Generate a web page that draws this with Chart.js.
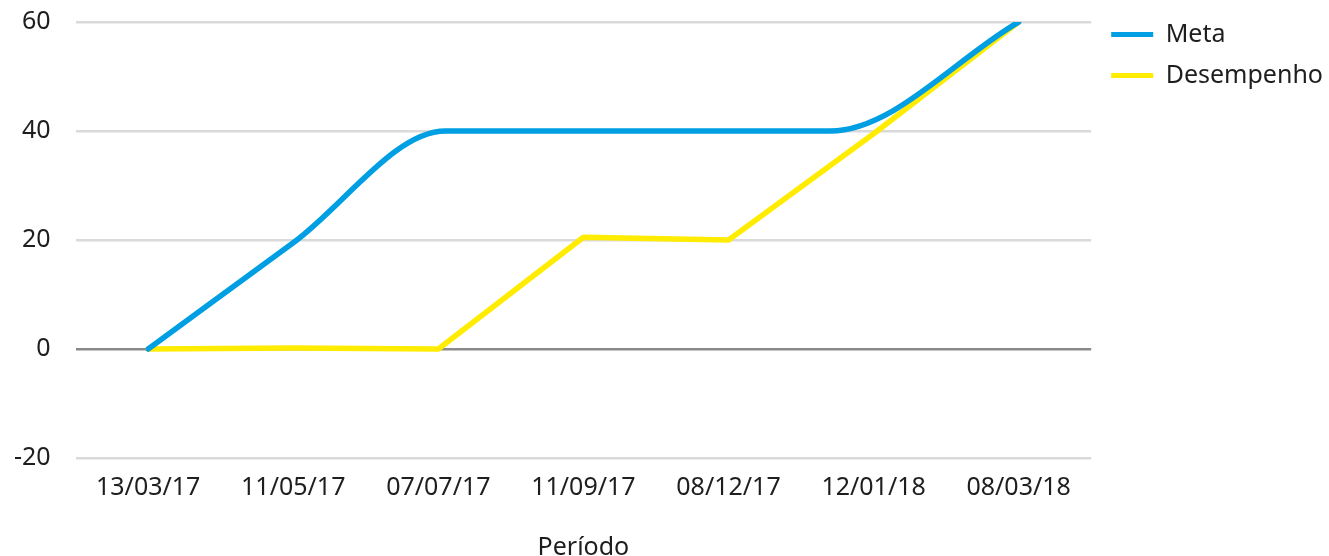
<!DOCTYPE html>
<html>
<head>
<meta charset="utf-8">
<script src="https://cdn.jsdelivr.net/npm/chart.js@4/dist/chart.umd.min.js"></script>
<style>
  html, body { margin: 0; padding: 0; background: #fff; }
  #wrap { width: 1329px; height: 556px; }
</style>
</head>
<body>
<div id="wrap"><canvas id="chart" width="1329" height="556"></canvas></div>
<script>
// x = position along the period axis (0 = first label), y = value
const PERIOD_LABELS = ['13/03/17', '11/05/17', '07/07/17', '11/09/17', '08/12/17', '12/01/18', '08/03/18'];
const META_X = [0, 1, 2.05, 4.7, 6];
const META_Y = [0, 19.5, 40, 40, 60];
const DESEMPENHO_X = [0, 1, 2, 3, 4, 5, 6];
const DESEMPENHO_Y = [0, 0.2, 0, 20.5, 20, 39.5, 60];
const Y_TICKS = [-20, 0, 20, 40, 60];

const BLUE = '#009FE3';
const YELLOW = '#FFEC00';

Chart.defaults.font.family = "'Noto Sans', sans-serif";
Chart.defaults.font.size = 25;
Chart.defaults.color = '#1e1e1e';

const toPoints = (xs, ys) => xs.map((x, i) => ({ x, y: ys[i] }));

const lineStyle = color => ({
  borderColor: color,
  backgroundColor: color,
  borderWidth: 5.5,
  pointRadius: 0,
  borderCapStyle: 'round',
  borderJoinStyle: 'round',
  fill: false,
});

// push the legend a little further away from the plot area
const legendGap = {
  id: 'legendGap',
  afterLayout(chart) {
    chart.legend.left += 4;
    chart.legend.right += 4;
    chart.legend.top += 2;
    chart.legend.bottom += 2;
  },
};

new Chart(document.getElementById('chart'), {
  type: 'line',
  data: {
    datasets: [
      { label: 'Meta', data: toPoints(META_X, META_Y), ...lineStyle(BLUE), cubicInterpolationMode: 'monotone' },
      { label: 'Desempenho', data: toPoints(DESEMPENHO_X, DESEMPENHO_Y), ...lineStyle(YELLOW), tension: 0 },
    ],
  },
  plugins: [legendGap],
  options: {
    responsive: false,
    animation: false,
    devicePixelRatio: 1,
    layout: { padding: { top: 4, right: 0, bottom: -4, left: 7 } },
    plugins: {
      tooltip: { enabled: false },
      legend: {
        position: 'right',
        align: 'start',
        labels: {
          boxWidth: 42,
          boxHeight: 5,
          padding: 16,
          color: '#1e1e1e',
          generateLabels: chart =>
            Chart.defaults.plugins.legend.labels.generateLabels(chart).map(l => ({ ...l, lineWidth: 0 })),
        },
      },
    },
    scales: {
      x: {
        type: 'linear',
        min: -0.5,
        max: 6.5,
        afterBuildTicks: scale => {
          scale.ticks = PERIOD_LABELS.map((_, i) => ({ value: i }));
        },
        ticks: {
          padding: 15,
          maxRotation: 0,
          autoSkip: false,
          callback: v => PERIOD_LABELS[v],
        },
        grid: { display: false, drawTicks: false },
        border: { display: false },
        title: {
          display: true,
          text: 'Período',
          font: { size: 25, lineHeight: 1 },
          padding: { top: 17, bottom: 0 },
        },
      },
      y: {
        min: -20,
        max: 60,
        afterBuildTicks: scale => {
          scale.ticks = Y_TICKS.map(v => ({ value: v }));
        },
        ticks: { padding: 7 },
        grid: {
          drawTicks: true,
          tickLength: 18,
          tickColor: 'rgba(0,0,0,0)',
          lineWidth: 2.5,
          color: ctx => (ctx.tick && ctx.tick.value === 0 ? '#8a8a8a' : '#dadada'),
        },
        border: { display: false },
      },
    },
  },
});
</script>
</body>
</html>
